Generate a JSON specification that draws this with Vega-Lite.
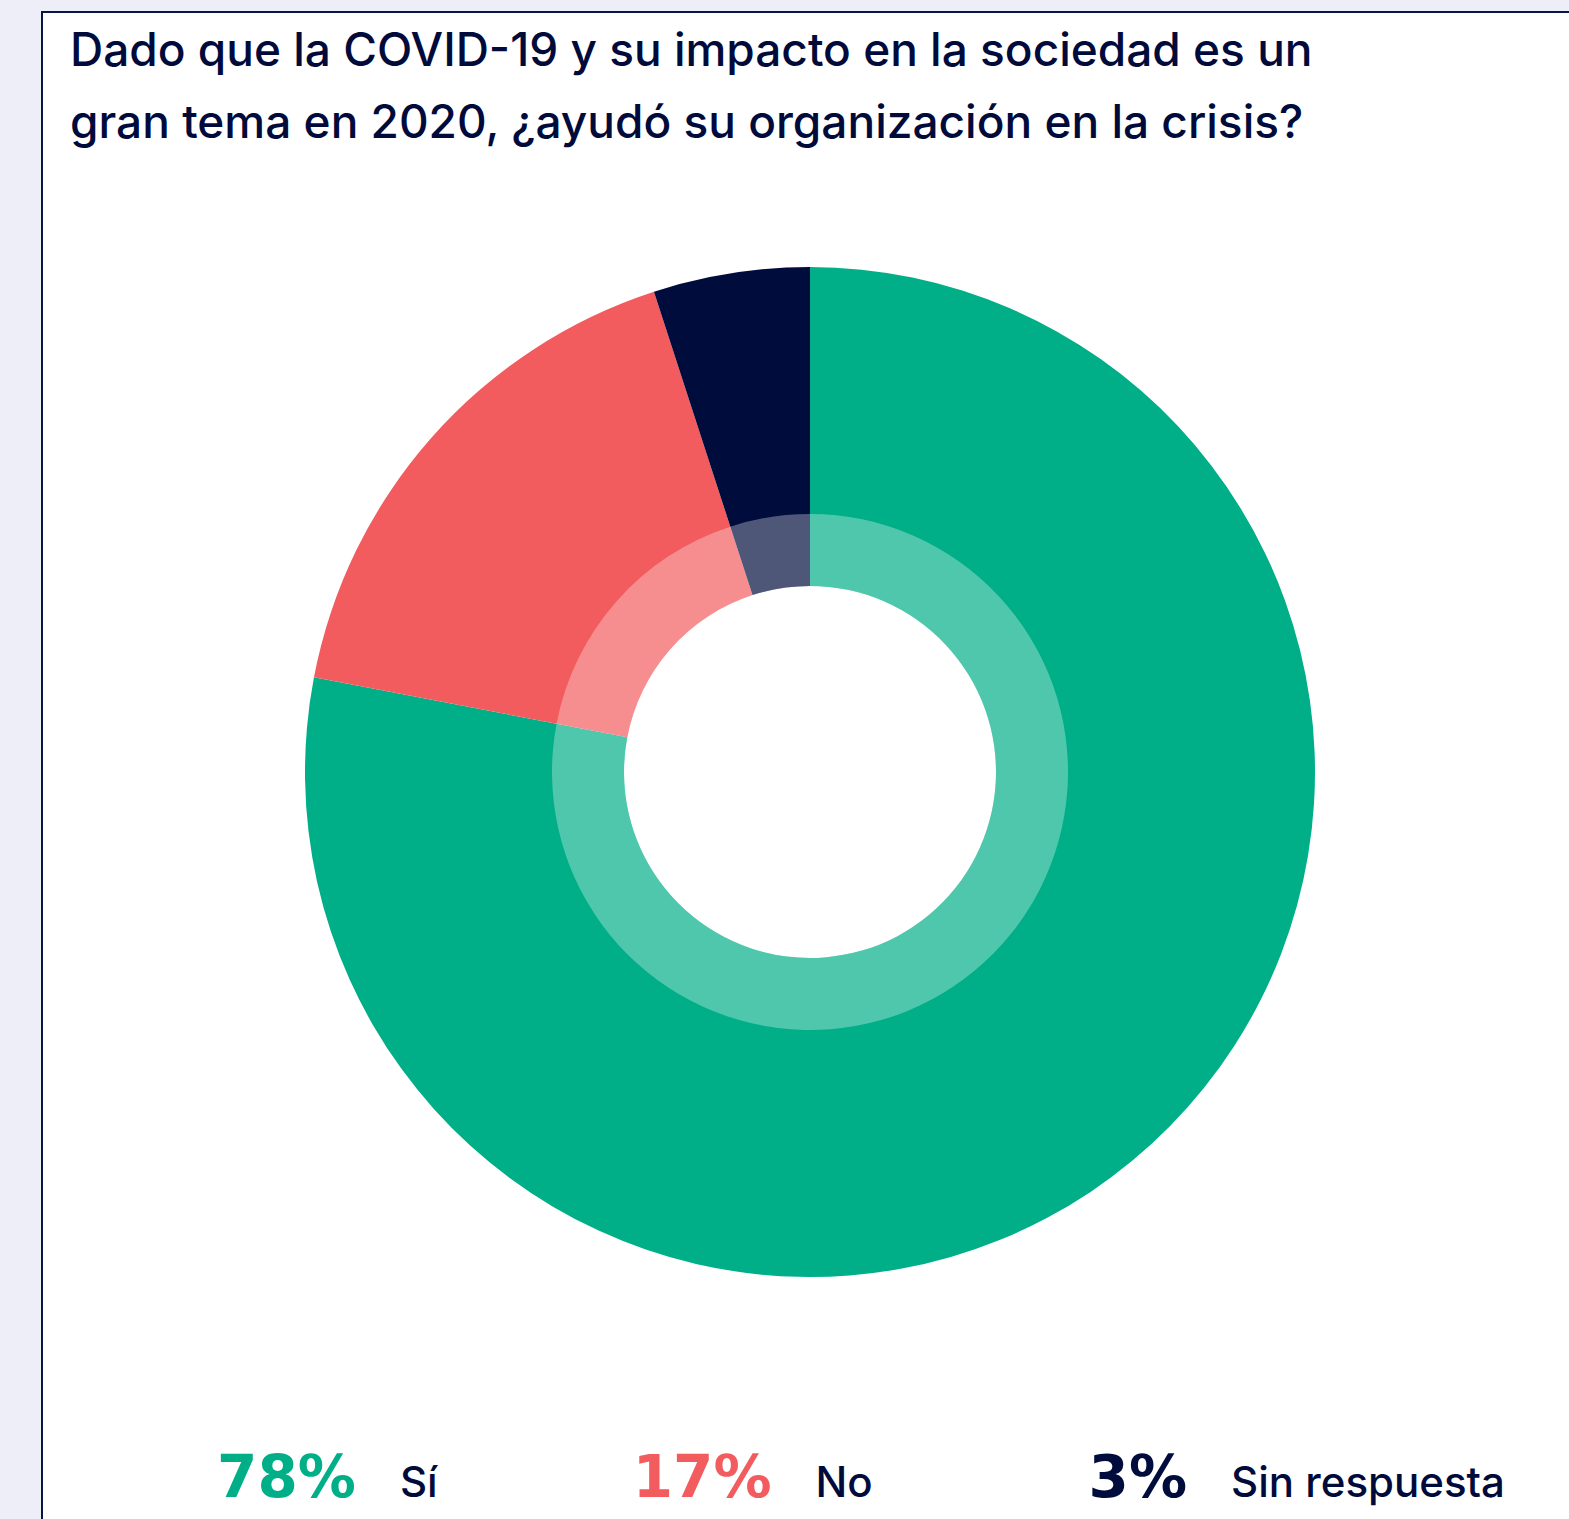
{
  "$schema": "https://vega.github.io/schema/vega-lite/v6.json",
  "autosize": {"type": "fit", "contains": "padding"},
  "width": 1569,
  "height": 1519,
  "padding": {"left": 42, "top": 12, "right": -9, "bottom": -13},
  "background": "#EEEEF9",
  "config": {"view": {"fill": "white", "stroke": "#0A1642", "strokeWidth": 2}},
  "title": {
    "text": ["Dado que la COVID-19 y su impacto en la sociedad es un", "gran tema en 2020, ¿ayudó su organización en la crisis?"],
    "anchor": "start",
    "frame": "group",
    "orient": "top",
    "offset": -136,
    "dx": 28,
    "baseline": "top",
    "font": "Inter",
    "fontSize": 46,
    "fontWeight": 500,
    "color": "#000B3B",
    "lineHeight": 72
  },
  "data": {
    "values": [
      {"categoria": "Sí", "valor": 78, "etiqueta": "78%", "orden": 1},
      {"categoria": "No", "valor": 17, "etiqueta": "17%", "orden": 2},
      {"categoria": "Sin respuesta", "valor": 5, "etiqueta": "3%", "orden": 3}
    ]
  },
  "layer": [
    {
      "mark": {"type": "arc", "innerRadius": 186, "outerRadius": 505},
      "encoding": {
        "theta": {"field": "valor", "type": "quantitative", "stack": true},
        "color": {
          "field": "categoria",
          "type": "nominal",
          "scale": {"domain": ["Sí", "No", "Sin respuesta"], "range": ["#00AF87", "#F25C5E", "#000C3C"]},
          "legend": null
        },
        "order": {"field": "orden", "type": "quantitative"}
      }
    },
    {
      "mark": {"type": "arc", "innerRadius": 186, "outerRadius": 258, "fill": "white", "opacity": 0.31},
      "encoding": {
        "theta": {"field": "valor", "type": "quantitative", "stack": true},
        "detail": {"field": "categoria", "type": "nominal"},
        "order": {"field": "orden", "type": "quantitative"}
      }
    },
    {
      "mark": {"type": "text", "align": "right", "baseline": "alphabetic", "dx": -22, "dy": -35, "font": "DejaVu Sans", "fontWeight": "bold", "fontSize": 58},
      "encoding": {
        "x": {"field": "categoria", "type": "nominal", "sort": ["Sí", "No", "Sin respuesta"], "scale": {"type": "point", "padding": 0.848, "align": 0.4766}, "axis": null},
        "y": {"datum": 0, "type": "quantitative", "scale": {"domain": [0, 1]}, "axis": null},
        "text": {"field": "etiqueta"},
        "color": {"field": "categoria", "type": "nominal", "legend": null}
      }
    },
    {
      "mark": {"type": "text", "align": "left", "baseline": "alphabetic", "dx": 22, "dy": -35, "font": "Inter", "fontWeight": 500, "fontSize": 42, "fill": "#000B3B"},
      "encoding": {
        "x": {"field": "categoria", "type": "nominal", "sort": ["Sí", "No", "Sin respuesta"], "scale": {"type": "point", "padding": 0.848, "align": 0.4766}, "axis": null},
        "y": {"datum": 0, "type": "quantitative", "scale": {"domain": [0, 1]}, "axis": null},
        "text": {"field": "categoria"}
      }
    }
  ]
}
